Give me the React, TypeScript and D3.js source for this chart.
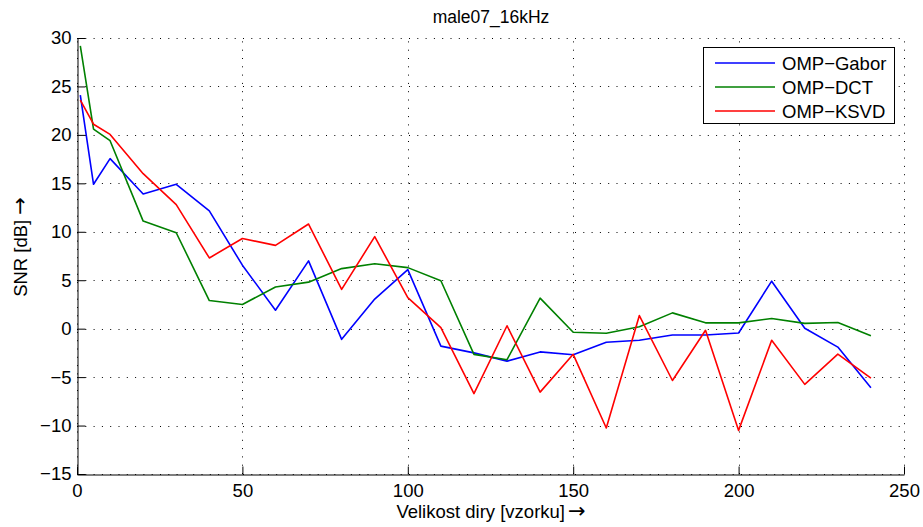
import React, { useEffect, useRef } from 'react';
import * as d3 from 'd3';

const holeSizes = [1, 5, 10, 20, 30, 40, 50, 60, 70, 80, 90, 100, 110, 120, 130, 140, 150, 160, 170, 180, 190, 200, 210, 220, 230, 240];
const gaborSnr = [24.1, 14.9, 17.55, 13.9, 14.9, 12.15, 6.55, 1.9, 7.0, -1.1, 3.05, 6.1, -1.8, -2.5, -3.35, -2.4, -2.7, -1.4, -1.2, -0.65, -0.65, -0.45, 4.9, 0.05, -1.9, -6.1];
const dctSnr = [29.2, 20.6, 19.4, 11.1, 9.9, 2.9, 2.5, 4.3, 4.8, 6.2, 6.7, 6.3, 4.95, -2.65, -3.2, 3.15, -0.37, -0.47, 0.2, 1.63, 0.6, 0.6, 1.05, 0.55, 0.63, -0.72];
const ksvdSnr = [23.6, 21.1, 20.05, 16.0, 12.8, 7.3, 9.3, 8.6, 10.8, 4.05, 9.5, 3.2, 0.1, -6.7, 0.3, -6.55, -2.65, -10.25, 1.35, -5.35, -0.17, -10.5, -1.2, -5.75, -2.62, -5.1];

const seriesNames = ['OMP\u2212Gabor', 'OMP\u2212DCT', 'OMP\u2212KSVD'];
const seriesColors = ['#0000ff', '#008000', '#ff0000'];
const xTicks = [0, 50, 100, 150, 200, 250];
const yTicks = [-15, -10, -5, 0, 5, 10, 15, 20, 25, 30];

const FONT = 'Liberation Sans, Arial, Helvetica, sans-serif';

export default function App() {
  const ref = useRef<SVGSVGElement>(null);

  useEffect(() => {
    const svg = d3.select(ref.current);
    svg.selectAll('*').remove();

    const left = 77, right = 904, top = 38, bottom = 474;
    const x = d3.scaleLinear().domain([0, 250]).range([left, right]);
    const y = d3.scaleLinear().domain([-15, 30]).range([bottom, top]);

    // dotted grid
    const grid = svg.append('g').attr('stroke', '#000').attr('stroke-width', 1).attr('stroke-dasharray', '1 7.3');
    grid.selectAll('.gx').data(xTicks).join('line')
      .attr('x1', (d) => Math.round(x(d)) + 0.5).attr('x2', (d) => Math.round(x(d)) + 0.5)
      .attr('y1', bottom).attr('y2', top);
    grid.selectAll('.gy').data(yTicks).join('line')
      .attr('y1', (d) => Math.round(y(d)) + 0.5).attr('y2', (d) => Math.round(y(d)) + 0.5)
      .attr('x1', left).attr('x2', right);

    // series
    const all = [gaborSnr, dctSnr, ksvdSnr];
    const line = d3.line<number>()
      .x((_, i) => x(holeSizes[i]))
      .y((d) => y(d));
    all.forEach((vals, i) => {
      svg.append('path')
        .datum(vals)
        .attr('fill', 'none')
        .attr('stroke', seriesColors[i])
        .attr('stroke-width', 1.6)
        .attr('stroke-linejoin', 'round')
        .attr('d', line);
    });

    // axes
    const xAxis = d3.axisBottom(x).tickValues(xTicks).tickSizeInner(-8).tickSizeOuter(0).tickPadding(9);
    const yAxis = d3.axisLeft(y).tickValues(yTicks).tickSizeInner(-8).tickSizeOuter(0).tickPadding(6);

    const gx = svg.append('g').attr('transform', `translate(0,${bottom + 0.5})`).call(xAxis);
    const gy = svg.append('g').attr('transform', `translate(${left + 0.5},0)`).call(yAxis);
    [gx, gy].forEach((g) => {
      g.selectAll('path, line').attr('stroke', '#000').attr('stroke-width', 1);
      g.selectAll('text').attr('font-family', FONT).attr('font-size', 18.5).attr('fill', '#000');
    });

    // title and labels
    svg.append('text')
      .attr('x', 491).attr('y', 23)
      .attr('text-anchor', 'middle')
      .attr('font-family', FONT).attr('font-size', 17.5)
      .text('male07_16kHz');

    const xl = svg.append('text')
      .attr('x', 491).attr('y', 518)
      .attr('text-anchor', 'middle')
      .attr('font-family', FONT).attr('font-size', 18.5);
    xl.append('tspan').text('Velikost diry [vzorku]');
    xl.append('tspan').attr('font-family', 'DejaVu Sans').attr('font-size', 21).attr('dx', 3).text('\u2192');

    const yl = svg.append('text')
      .attr('transform', 'translate(27,247) rotate(-90)')
      .attr('text-anchor', 'middle')
      .attr('font-family', FONT).attr('font-size', 18.5);
    yl.append('tspan').text('SNR [dB]');
    yl.append('tspan').attr('font-family', 'DejaVu Sans').attr('font-size', 21).attr('dx', 5).text('\u2192');

    // legend
    const lg = svg.append('g');
    lg.append('rect')
      .attr('x', 703.5).attr('y', 47.5).attr('width', 191).attr('height', 76)
      .attr('fill', '#fff').attr('stroke', '#000').attr('stroke-width', 1);
    seriesNames.forEach((name, i) => {
      const yy = 63 + i * 24;
      lg.append('line')
        .attr('x1', 715).attr('x2', 775).attr('y1', yy).attr('y2', yy)
        .attr('stroke', seriesColors[i]).attr('stroke-width', 1.6);
      lg.append('text')
        .attr('x', 782).attr('y', yy + 6.5)
        .attr('font-family', FONT).attr('font-size', 18.5)
        .text(name);
    });
  }, []);

  return (
    <svg ref={ref} width={923} height={527} style={{ display: 'block', position: 'absolute', left: 0, top: 0, background: '#fff' }} />
  );
}
